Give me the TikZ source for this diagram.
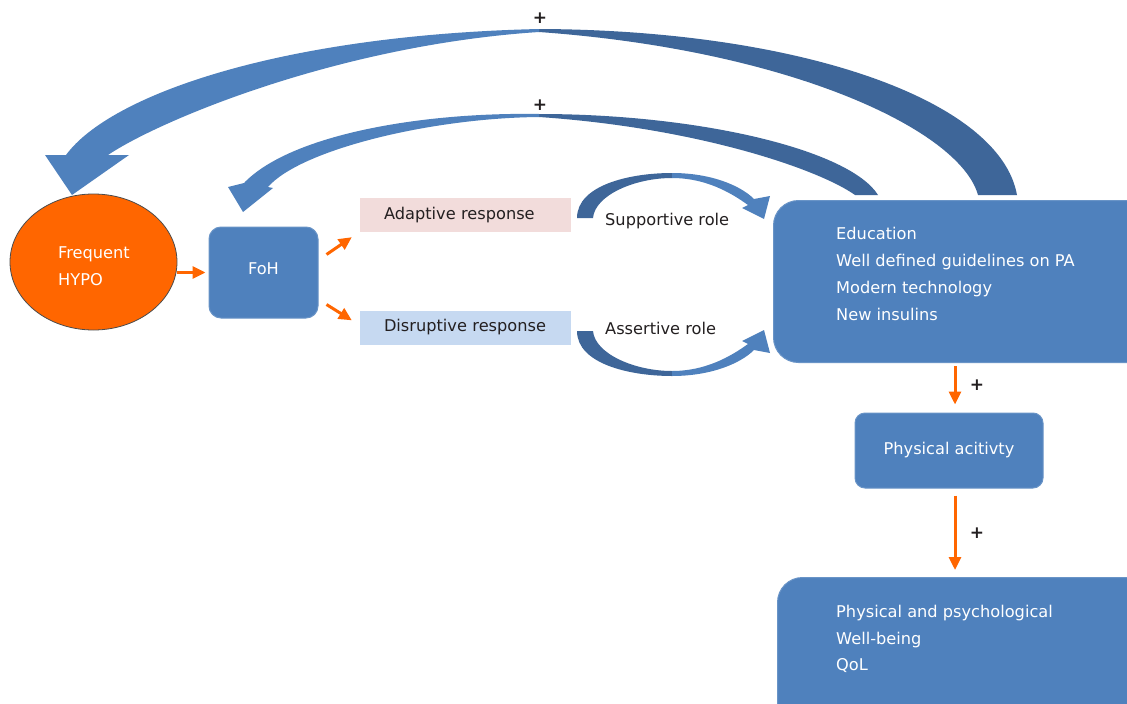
\documentclass[tikz,border=0pt]{standalone}
\usepackage{fontspec}
\setmainfont{DejaVu Sans}
\usetikzlibrary{arrows.meta,calc,shapes.geometric}

\definecolor{boxblue}{HTML}{4F81BD}
\definecolor{backblue}{HTML}{3E6699}
\definecolor{hypoorange}{HTML}{FF6600}
\definecolor{adaptpink}{HTML}{F2DCDB}
\definecolor{disrupblue}{HTML}{C6D9F1}
\definecolor{inkdark}{HTML}{231F20}

\begin{document}
\begin{tikzpicture}[ x=1pt, y=-1pt, >={Triangle[length=13pt,width=12pt]},
        font=\fontsize{16.2}{26.8}\selectfont,
        bluebox/.style={ fill=boxblue, draw=boxblue!85!white, line width=1pt,
          text=white, rounded corners=#1 },
        bluebox/.default=12pt,
        resp/.style={ minimum width=211pt, minimum height=34pt, inner sep=0pt,
          text width=163pt, align=left, text=inkdark },
        orarrow/.style={ ->, color=hypoorange, line width=3pt },
        plus/.style={ text=inkdark, inner sep=0pt, font=\fontsize{17}{20}\selectfont\bfseries },
        bandfront/.style={ fill=boxblue },
        bandback/.style={ fill=backblue } ]
        \fill[white] (0,0) rectangle (1127,704);
        \useasboundingbox (0,0) rectangle (1127,704);

        % feedback arcs from the tools box
        \fill[bandback] (539,29) .. controls (800,30) and (1000,100) .. (1017,195)
        -- (978,195) .. controls (960,130) and (790,50) .. (539,32) -- cycle;
        \fill[bandfront] (539,29) .. controls (280,35) and (110,95) .. (66,155)
        -- (45,155) -- (72,195) -- (129,155) -- (108,155)
        .. controls (160,120) and (340,45) .. (539,32) -- cycle;
        \fill[bandback] (539,114) .. controls (700,114) and (850,150) .. (878,195)
        -- (855,195) .. controls (820,170) and (700,128) .. (539,117) -- cycle;
        \fill[bandfront] (539,114) .. controls (420,112) and (290,135) .. (244,183)
        -- (228,187) -- (243,212) -- (273,188) -- (268,187)
        .. controls (300,150) and (430,118) .. (539,117) -- cycle;
        \node[plus] (plusout) at (540,18) {+};
        \node[plus] (plusin) at (540,105) {+};

        % role arcs
        \fill[bandback] (577,218) .. controls (577,185) and (630,173) .. (672,173)
        -- (672,178) .. controls (635,178) and (595,195) .. (593,218) -- cycle;
        \fill[bandfront] (672,173) .. controls (710,173) and (740,185) .. (754,199)
        -- (770,196) -- (764,219) -- (742,208) -- (748,205)
        .. controls (730,192) and (705,178) .. (672,178) -- cycle;
        \fill[bandback] (577,331) .. controls (577,364) and (630,376) .. (672,376)
        -- (672,371) .. controls (635,371) and (595,354) .. (593,331) -- cycle;
        \fill[bandfront] (672,376) .. controls (710,376) and (740,364) .. (754,350)
        -- (770,353) -- (764,330) -- (742,341) -- (748,344)
        .. controls (730,357) and (705,371) .. (672,371) -- cycle;

        \node[ellipse, fill=hypoorange, draw=black!70, line width=0.8pt,
        minimum width=167pt, minimum height=136pt] (hypo) at (93.5,262) {};
        \node[text=white, align=left, inner sep=0pt] (hypotxt) at (94,266) {Frequent\\HYPO};
        \node[bluebox, minimum width=109pt, minimum height=91pt] (foh) at (263.5,272.5)
        {\raisebox{7pt}{FoH}};
        \node[resp, fill=adaptpink] (adapt) at (465.5,215) {Adaptive response};
        \node[resp, fill=disrupblue] (disrupt) at (465.5,327.5) {Disruptive response};
        \node[text=inkdark, anchor=west, inner sep=0pt] (suprole) at (605,221) {Supportive role};
        \node[text=inkdark, anchor=west, inner sep=0pt] (assrole) at (605,328) {Assertive role};

        \node[bluebox=25pt, minimum width=380pt, minimum height=162pt, anchor=north west]
        (edu) at (773,200) {};
        \node[text=white, align=left, anchor=west, inner sep=0pt] (edutxt) at (836,274)
        {Education\\Well defined guidelines on PA\\Modern technology\\New insulins};
        \node[bluebox=10pt, minimum width=188pt, minimum height=75pt] (pa) at (949,450.5)
        {\raisebox{2pt}{Physical acitivty}};
        \node[bluebox=25pt, minimum width=380pt, minimum height=160pt, anchor=north west]
        (qol) at (777,577) {};
        \node[text=white, align=left, anchor=west, inner sep=0pt] (qoltxt) at (836,639)
        {Physical and psychological\\Well-being\\QoL};

        \draw[orarrow] (hypo.east |- foh.west) -- ([xshift=-3pt]foh.west);
        \draw[orarrow] ([shift={(8,-18)}]foh.east) -- ([shift={(-8,5)}]adapt.south west);
        \draw[orarrow] ([shift={(8,32)}]foh.east) -- ([shift={(-8,10)}]disrupt.north west);
        \draw[orarrow] ($(pa.north |- edu.south)+(6,3)$) -- ($(pa.north)+(6,-8)$)
        node[plus, midway, xshift=22pt] {+};
        \draw[orarrow] ($(pa.south)+(6,7)$) -- ($(qol.north -| pa.south)+(6,-7)$)
        node[plus, midway, xshift=22pt] {+};
      \end{tikzpicture}
\end{document}
